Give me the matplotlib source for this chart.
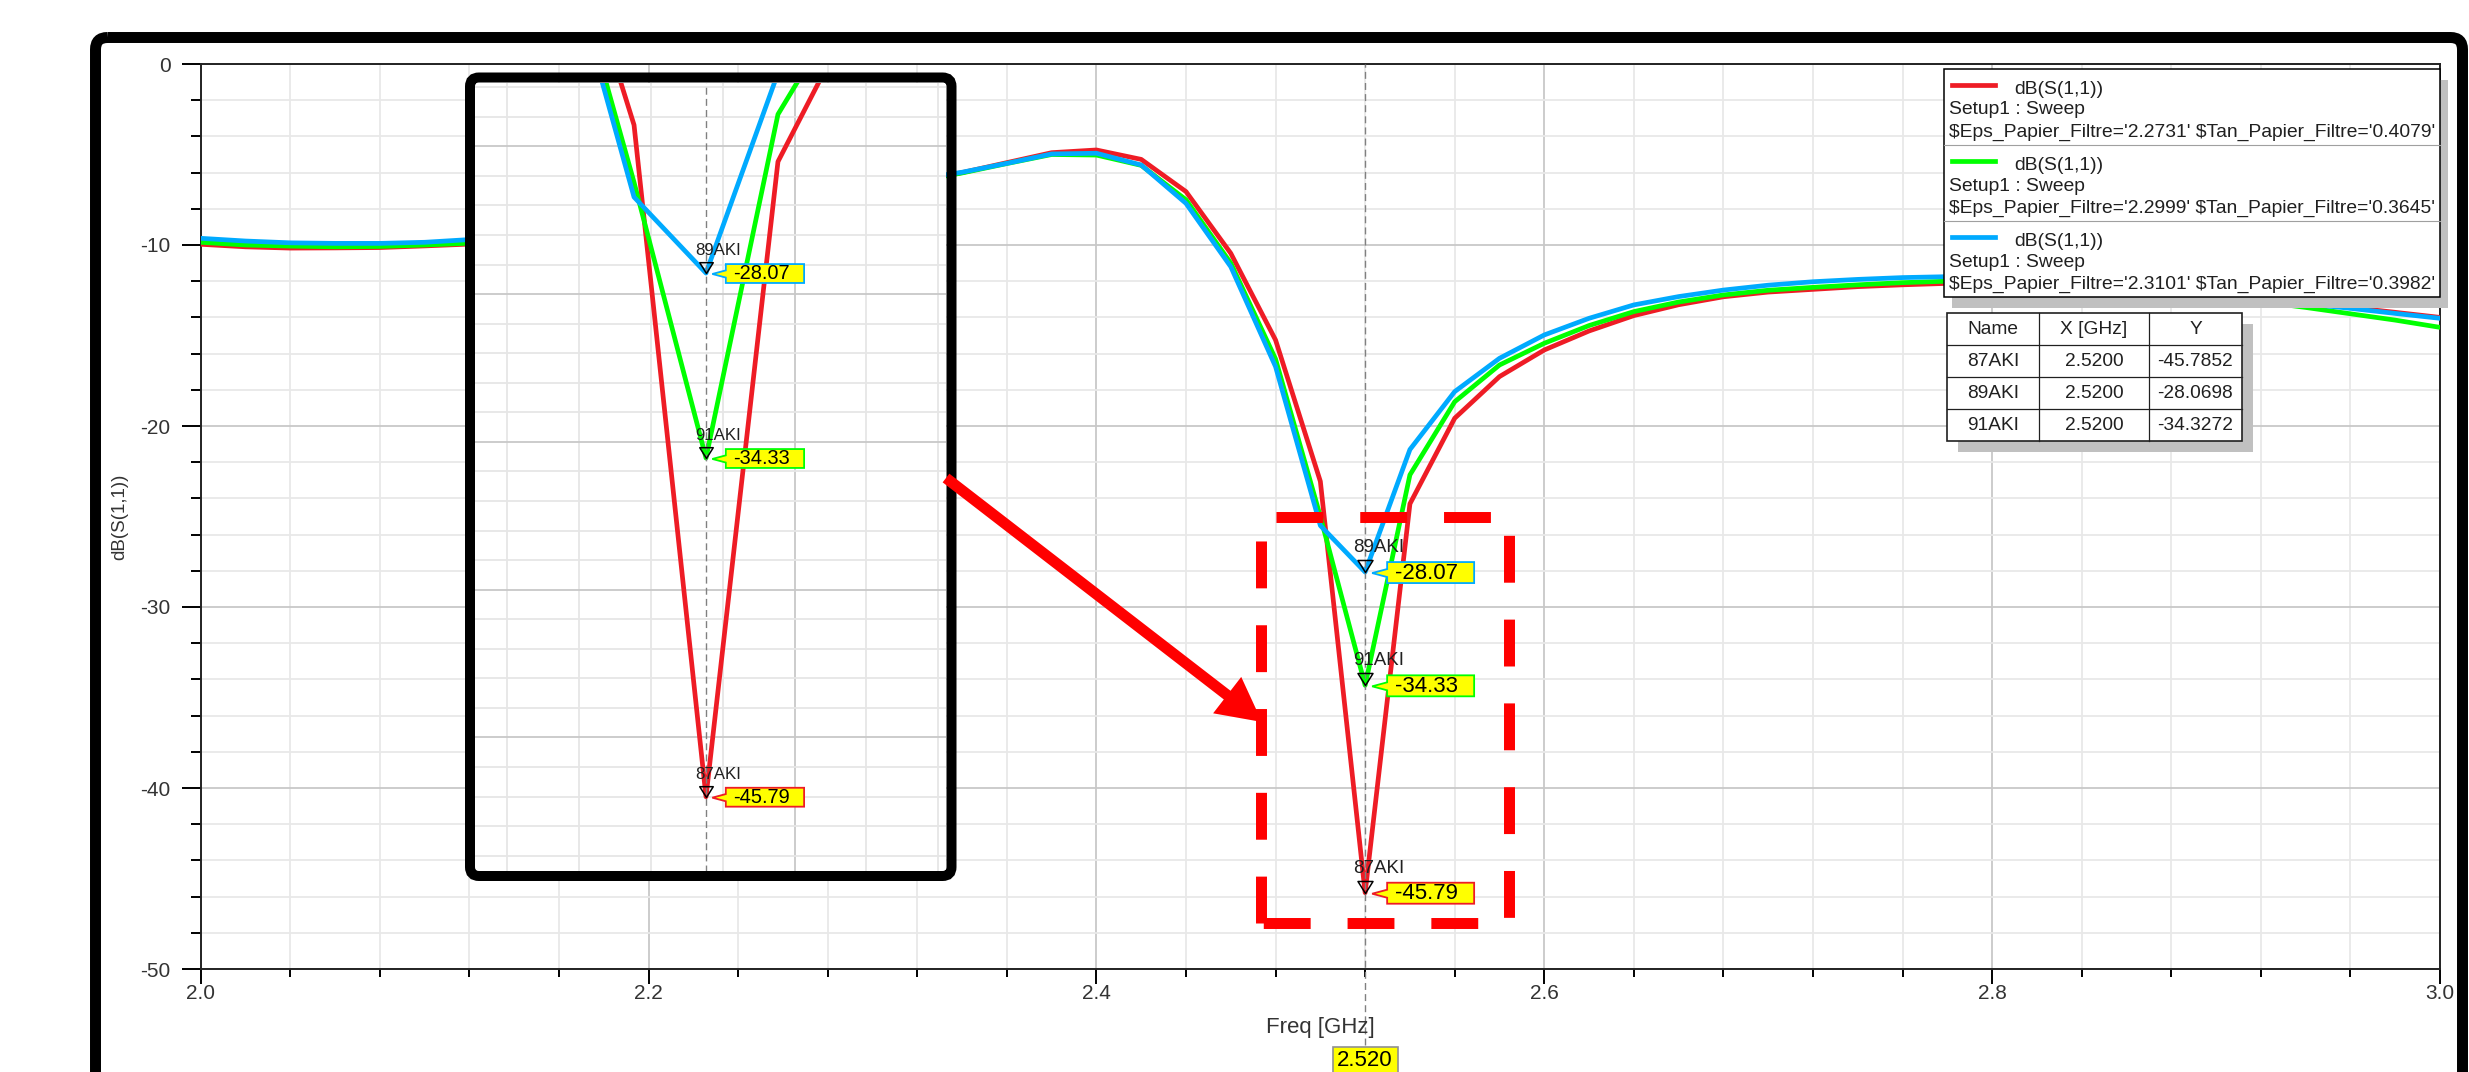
import matplotlib
matplotlib.use('Agg')
import matplotlib.pyplot as plt
import matplotlib.transforms as mtransforms
from matplotlib.patches import FancyBboxPatch, Rectangle, Polygon, FancyArrow
from matplotlib.lines import Line2D
from matplotlib.path import Path
from matplotlib.ticker import MultipleLocator, FormatStrFormatter

plt.rcParams['font.family'] = ['Liberation Sans', 'DejaVu Sans']
plt.rcParams['axes.unicode_minus'] = False

W, H = 2469, 1072

# sweep (GHz) and dB(S(1,1))
freq = [2.00, 2.02, 2.04, 2.06, 2.08, 2.10, 2.12, 2.14, 2.16, 2.18, 2.20, 2.22, 2.24,
        2.26, 2.28, 2.30, 2.32, 2.34, 2.36, 2.38, 2.40, 2.42, 2.44, 2.46, 2.48, 2.50,
        2.52, 2.54, 2.56, 2.58, 2.60, 2.62, 2.64, 2.66, 2.68, 2.70, 2.72, 2.74, 2.76,
        2.78, 2.80, 2.82, 2.84, 2.86, 2.88, 2.90, 2.92, 2.94, 2.96, 2.98, 3.00]
s11_red = [-9.96, -10.10, -10.17, -10.16, -10.14, -10.05, -9.95, -9.80, -9.62, -9.40,
           -9.12, -8.80, -8.42, -7.98, -7.50, -6.98, -6.45, -6.00, -5.45, -4.90, -4.75,
           -5.27, -7.05, -10.46, -15.25, -23.06, -45.7852, -24.30, -19.57, -17.27, -15.80,
           -14.75, -13.90, -13.30, -12.86, -12.60, -12.45, -12.30, -12.20, -12.12, -12.07,
           -12.07, -12.12, -12.25, -12.45, -12.70, -12.95, -13.20, -13.45, -13.72, -14.00]
s11_green = [-9.85, -10.00, -10.06, -10.10, -10.08, -10.00, -9.90, -9.76, -9.58, -9.36,
             -9.08, -8.76, -8.38, -7.95, -7.48, -6.97, -6.47, -6.02, -5.50, -5.00, -5.03,
             -5.60, -7.50, -11.00, -16.30, -25.00, -34.3272, -22.70, -18.66, -16.63, -15.43,
             -14.45, -13.68, -13.15, -12.76, -12.50, -12.34, -12.20, -12.08, -12.00, -11.95,
             -11.95, -12.02, -12.20, -12.50, -12.85, -13.13, -13.45, -13.80, -14.15, -14.55]
s11_blue = [-9.63, -9.78, -9.88, -9.91, -9.91, -9.85, -9.70, -9.55, -9.38, -9.16,
            -8.90, -8.58, -8.20, -7.78, -7.32, -6.83, -6.36, -5.98, -5.49, -4.97, -4.93,
            -5.58, -7.70, -11.20, -16.72, -25.50, -28.0698, -21.30, -18.10, -16.26, -14.97,
            -14.05, -13.31, -12.85, -12.49, -12.22, -12.03, -11.90, -11.80, -11.75, -11.72,
            -11.72, -11.80, -12.00, -12.30, -12.65, -12.97, -13.25, -13.50, -13.78, -14.05]

eps_vals = ['2.2731', '2.2999', '2.3101']
tan_vals = ['0.4079', '0.3645', '0.3982']
colors = ['#ee1c25', '#00ff00', '#00aaff']

mark_freq = 2.52
mark_names = ['87AKI', '89AKI', '91AKI']
mark_vals = [-45.7852, -28.0698, -34.3272]
mark_colors = ['#ee1c25', '#00aaff', '#00ff00']

fig = plt.figure(figsize=(W / 100, H / 100), dpi=100)
fig.patch.set_facecolor('white')
# pixel coordinates, origin top-left
pix = mtransforms.Affine2D().scale(1.0 / W, -1.0 / H).translate(0, 1) + fig.transFigure

tri = Path([(-0.625, 1), (0.625, 1), (0, 0), (-0.625, 1)],
           [Path.MOVETO, Path.LINETO, Path.LINETO, Path.CLOSEPOLY])


def add_marker(ax, name, val, col, s):
    ax.plot([mark_freq], [val], marker=tri, ms=17.3 * s, mfc='none', mec='black',
            mew=1.1, zorder=5)
    ax.annotate(name, (mark_freq, val), xytext=(-12 * s, 20 * s), textcoords='offset pixels',
                fontsize=13.5 * s, ha='left', va='baseline', color='#202020', zorder=7)
    verts = [(7, 1), (22, -3), (22, -10), (109, -10), (109, 11), (22, 11), (22, 5)]
    verts = [(x * s, y * s) for x, y in verts]
    tr = mtransforms.Affine2D().scale(1, -1) + \
        mtransforms.ScaledTranslation(mark_freq, val, ax.transData)
    ax.add_artist(Polygon(verts, closed=True, transform=tr, fc='#ffff00', ec=col,
                          lw=1.3, zorder=6))
    ax.annotate(f'{val:.2f}', (mark_freq, val), xytext=(30 * s, -1 * s),
                textcoords='offset pixels', fontsize=16 * s, ha='left', va='center',
                color='black', zorder=7)


# ---- main plot
ax = fig.add_axes([200.7 / W, 1 - 969 / H, (2440 - 200.7) / W, (969 - 64) / H])
for vals, c in zip([s11_red, s11_green, s11_blue], colors):
    ax.plot(freq, vals, color=c, lw=3.4, zorder=3)
ax.set_xlim(2.0, 3.0)
ax.set_ylim(-50, 0)
ax.xaxis.set_major_locator(MultipleLocator(0.2))
ax.xaxis.set_minor_locator(MultipleLocator(0.04))
ax.yaxis.set_major_locator(MultipleLocator(10))
ax.yaxis.set_minor_locator(MultipleLocator(2))
ax.xaxis.set_major_formatter(FormatStrFormatter('%.1f'))
ax.yaxis.set_major_formatter(FormatStrFormatter('%d'))
ax.grid(which='major', color='#c8c8c8', lw=1.3)
ax.grid(which='minor', color='#e8e8e8', lw=1.3)
ax.set_axisbelow(True)
ax.tick_params(axis='y', which='major', length=13.7, width=1.4, pad=8, labelsize=15,
               labelcolor='#333333')
ax.tick_params(axis='y', which='minor', length=7.2, width=1.4)
ax.tick_params(axis='x', which='major', length=10.8, width=1.4, pad=0, labelsize=15,
               labelcolor='#333333')
ax.tick_params(axis='x', which='minor', length=5.5, width=1.4)
for sp in ax.spines.values():
    sp.set_color('#222222')
    sp.set_linewidth(1.4)
ax.axvline(mark_freq, ymin=-(1045 - 969) / 905, ymax=1, color='#808080', lw=1.0,
           ls=(0, (5, 3)), clip_on=False, zorder=4)
for n, v, c in zip(mark_names, mark_vals, mark_colors):
    add_marker(ax, n, v, c, 1.0)

fig.text(120, 517, 'dB(S(1,1))', transform=pix, rotation=90, ha='center', va='center',
         fontsize=13.5, color='#333333')
fig.text(1320, 1027, 'Freq [GHz]', transform=pix, ha='center', va='center',
         fontsize=16, color='#333333')

# x marker readout below the axis
bl = mtransforms.blended_transform_factory(ax.transData, ax.transAxes)
tr_box = mtransforms.Affine2D().scale(1, -1) + mtransforms.ScaledTranslation(mark_freq, 0, bl)
fig.add_artist(Rectangle((-32.5, 78), 65, 40, transform=tr_box, fc='#ffff00', ec='#909090',
                         lw=1.2, zorder=5))
fig.text(mark_freq, 0, f'{mark_freq:.3f}', ha='center', va='center', fontsize=16,
         transform=mtransforms.offset_copy(bl, fig=fig, x=0, y=-92, units='dots'), zorder=6)

# ---- legend
fig.add_artist(Rectangle((1952, 80), 496, 228, transform=pix, fc='#c0c0c0', ec='none', zorder=2))
fig.add_artist(Rectangle((1944, 69), 496, 228, transform=pix, fc='white', ec='black', lw=1.1,
                         zorder=2.1))
for i in range(3):
    top = 69 + 76.2 * i
    if i > 0:
        fig.add_artist(Line2D([1944, 2440], [top, top], transform=pix, color='#a0a0a0',
                              lw=0.8, zorder=2.2))
    fig.add_artist(Line2D([1952, 1995], [top + 16, top + 16], transform=pix,
                          color=colors[i], lw=3.4, zorder=2.2))
    fig.text(2014, top + 20, 'dB(S(1,1))', transform=pix, fontsize=13.9, va='center',
             color='#202020', zorder=3)
    fig.text(1949, top + 41, 'Setup1 : Sweep', transform=pix, fontsize=13.9, va='center',
             color='#202020', zorder=3)
    fig.text(1949, top + 63.5,
             f"$Eps_Papier_Filtre='{eps_vals[i]}' $Tan_Papier_Filtre='{tan_vals[i]}'",
             transform=pix, fontsize=13.9, va='center', color='#202020', zorder=3,
             parse_math=False)

# ---- marker table
cols_x = [1947, 2039, 2149, 2242]
rows_y = [312.7, 345, 377, 409, 440.7]
fig.add_artist(Rectangle((1958, 324), 295, 128, transform=pix, fc='#c0c0c0', ec='none',
                         zorder=2))
fig.add_artist(Rectangle((1947, 312.7), 295, 128, transform=pix, fc='white', ec='#202020',
                         lw=1.2, zorder=2.1))
for x in cols_x[1:-1]:
    fig.add_artist(Line2D([x, x], [rows_y[0], rows_y[-1]], transform=pix, color='#202020',
                          lw=0.9, zorder=2.2))
for y in rows_y[1:-1]:
    fig.add_artist(Line2D([cols_x[0], cols_x[-1]], [y, y], transform=pix, color='#202020',
                          lw=0.9, zorder=2.2))
order = sorted(range(3), key=lambda k: mark_names[k])
cells = [['Name', 'X [GHz]', 'Y']] + \
    [[mark_names[k], f'{mark_freq:.4f}', f'{mark_vals[k]:.4f}'] for k in order]
for r, row in enumerate(cells):
    for c, txt in enumerate(row):
        fig.text((cols_x[c] + cols_x[c + 1]) / 2, (rows_y[r] + rows_y[r + 1]) / 2 + 1, txt,
                 transform=pix, ha='center', va='center', fontsize=13.8, color='#202020',
                 zorder=3)

# ---- zoomed inset
axi = fig.add_axes([475 / W, 1 - 872 / H, 471 / W, 789 / H], zorder=4)
axi.set_facecolor('white')
axi.set_xlim(2.4558, 2.5867)
axi.set_ylim(-48.33, -21.64)
axi.set_xticks([])
axi.set_yticks([])
for sp in axi.spines.values():
    sp.set_visible(False)
for k in range(7):
    gx = 2.4646 + 0.02 * k
    axi.axvline(gx, color='#c8c8c8' if k == 4 else '#e6e6e6', lw=1.3, zorder=1)
for k in range(27):
    gy = -21.78 - k
    axi.axhline(gy, color='#c8c8c8' if (k - 2) % 5 == 0 else '#e6e6e6', lw=1.3, zorder=1)
for vals, c in zip([s11_red, s11_green, s11_blue], colors):
    axi.plot(freq, vals, color=c, lw=3.4, zorder=3)
axi.axvline(mark_freq, color='#808080', lw=1.0, ls=(0, (5, 3)), zorder=4)
for n, v, c in zip(mark_names, mark_vals, mark_colors):
    add_marker(axi, n, v, c, 0.9)

fig.add_artist(FancyBboxPatch((470, 77.5), 481.5, 798.5, boxstyle='round,pad=0,rounding_size=9',
                              transform=pix, fc='none', ec='black', lw=7.2, zorder=5))

# ---- annotations: arrow and dashed box
fig.add_artist(FancyArrow(946, 478, 316, 244, width=11, head_width=46, head_length=44,
                          length_includes_head=True, transform=pix, color='#ff0000', lw=0,
                          zorder=6))
fig.add_artist(Line2D([1260.5, 1508.5, 1508.5, 1260.5], [516.5, 516.5, 922.5, 922.5],
                      transform=pix, color='#ff0000', lw=7.9,
                      ls=(69 / 11, (47 / 11, 37 / 11)), zorder=6))
fig.add_artist(Line2D([1260.5, 1260.5], [922.5, 516.5], transform=pix, color='#ff0000',
                      lw=7.9, ls=(0, (47 / 11, 37 / 11)), zorder=6))

# ---- screenshot frame
fig.add_artist(FancyBboxPatch((95.5, 37.5), 2367, 1100, boxstyle='round,pad=0,rounding_size=12',
                              transform=pix, fc='none', ec='black', lw=7.9, zorder=8))

fig.savefig('out.png', dpi=100, facecolor='white')
